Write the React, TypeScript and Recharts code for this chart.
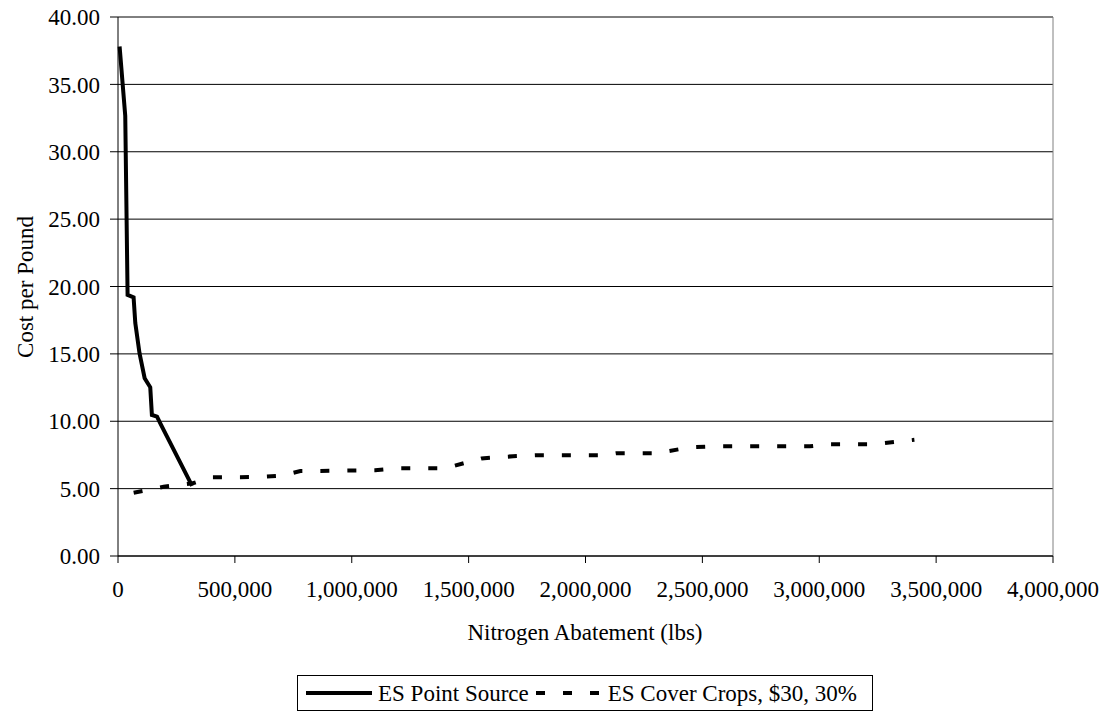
import React from 'react';
import { LineChart, Line, XAxis, YAxis, CartesianGrid, ReferenceLine, Legend } from 'recharts';

const pointSourceX = [6800, 31000, 41000, 66700, 74000, 92000, 114000, 138000, 145000, 167000, 181000, 317000];
const pointSourceY = [37.81, 32.67, 19.38, 19.2, 17.28, 15.05, 13.19, 12.52, 10.47, 10.34, 9.85, 5.2];

const coverCropsX = [67000, 195000, 320000, 400000, 600000, 700000, 780000, 1100000, 1200000, 1400000, 1555000, 1690000, 1790000, 2080000, 2130000, 2300000, 2450000, 2560000, 2960000, 3040000, 3230000, 3407000];
const coverCropsY = [4.7, 5.14, 5.4, 5.84, 5.86, 5.96, 6.3, 6.36, 6.51, 6.51, 7.24, 7.4, 7.48, 7.48, 7.62, 7.62, 8.07, 8.14, 8.14, 8.29, 8.29, 8.62];

const xTicks = [0, 500000, 1000000, 1500000, 2000000, 2500000, 3000000, 3500000, 4000000];
const yTicks = [0, 5, 10, 15, 20, 25, 30, 35, 40];

const seriesNames = ['ES Point Source', 'ES Cover Crops, $30, 30%'];
const xTitle = 'Nitrogen Abatement (lbs)';
const yTitle = 'Cost per Pound';

const pointSource = pointSourceX.map((x, i) => ({ x, y: pointSourceY[i] }));
const coverCrops = coverCropsX.map((x, i) => ({ x, y: coverCropsY[i] }));

const FONT = '"Liberation Serif", "Times New Roman", serif';
const FS = 23;
const LEGEND_H = 36;

const fmtX = (v: number) => v.toLocaleString('en-US');
const fmtY = (v: number) => v.toFixed(2);

const LegendBox = () => (
  <div
    style={{
      border: '1px solid #000',
      width: 576,
      height: LEGEND_H,
      display: 'flex',
      alignItems: 'center',
      fontFamily: FONT,
      fontSize: FS,
      lineHeight: 1,
      color: '#000',
      boxSizing: 'border-box',
      paddingLeft: 8,
      whiteSpace: 'nowrap',
    }}
  >
    <svg width={66} height={10} style={{ marginRight: 6 }}>
      <line x1={0} y1={5} x2={66} y2={5} stroke="#000" strokeWidth={4} />
    </svg>
    <span style={{ marginRight: 7 }}>{seriesNames[0]}</span>
    <svg width={66} height={10} style={{ marginRight: 6 }}>
      <line x1={0} y1={5} x2={66} y2={5} stroke="#000" strokeWidth={4} strokeDasharray="9 18" />
    </svg>
    <span>{seriesNames[1]}</span>
  </div>
);

export default function App() {
  return (
    <div style={{ position: 'absolute', left: 0, top: 0, width: 1107, height: 715, background: '#fff' }}>
      <LineChart width={1107} height={715} margin={{ top: 17, right: 54, bottom: 0, left: 0 }}>
        <CartesianGrid horizontal vertical={false} stroke="#000" strokeWidth={1} />
        <XAxis
          type="number"
          dataKey="x"
          domain={[0, 4000000]}
          ticks={xTicks}
          tickFormatter={fmtX}
          height={159 - LEGEND_H}
          tickSize={7}
          tickMargin={18}
          axisLine={{ stroke: '#000' }}
          tickLine={{ stroke: '#000' }}
          tick={{ fill: '#000', fontFamily: FONT, fontSize: FS }}
          interval={0}
          label={{
            content: () => (
              <text x={585} y={640} textAnchor="middle" fontFamily={FONT} fontSize={FS} fill="#000">
                {xTitle}
              </text>
            ),
          }}
        />
        <YAxis
          type="number"
          dataKey="y"
          domain={[0, 40]}
          ticks={yTicks}
          tickFormatter={fmtY}
          width={118}
          tickSize={8}
          tickMargin={10}
          axisLine={{ stroke: '#000' }}
          tickLine={{ stroke: '#000' }}
          tick={{ fill: '#000', fontFamily: FONT, fontSize: FS }}
          interval={0}
          label={{
            content: () => (
              <text
                x={25}
                y={287}
                transform="rotate(-90, 25, 287)"
                textAnchor="middle"
                dominantBaseline="central"
                fontFamily={FONT}
                fontSize={FS}
                fill="#000"
              >
                {yTitle}
              </text>
            ),
          }}
        />
        <ReferenceLine y={40} stroke="#808080" strokeWidth={1} />
        <ReferenceLine x={4000000} stroke="#808080" strokeWidth={1} />
        <Line
          data={pointSource}
          dataKey="y"
          name={seriesNames[0]}
          type="linear"
          stroke="#000"
          strokeWidth={4}
          dot={false}
          activeDot={false}
          isAnimationActive={false}
        />
        <Line
          data={coverCrops}
          dataKey="y"
          name={seriesNames[1]}
          type="linear"
          stroke="#000"
          strokeWidth={4}
          strokeDasharray="9 18"
          dot={false}
          activeDot={false}
          isAnimationActive={false}
        />
        <Legend
          content={() => <LegendBox />}
          wrapperStyle={{ position: 'absolute', left: 297, top: 675, width: 576, height: LEGEND_H }}
        />
      </LineChart>
    </div>
  );
}
